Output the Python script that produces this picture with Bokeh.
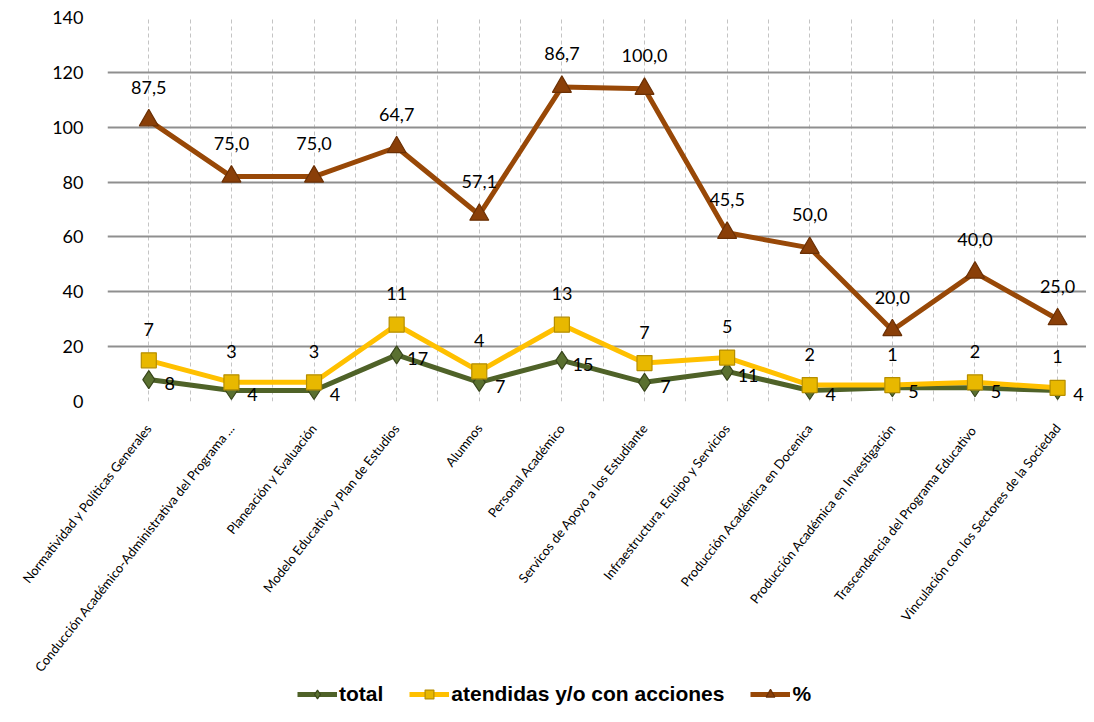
import numpy as np
from bokeh.plotting import figure
from bokeh.layouts import column
from bokeh.models import FixedTicker, Legend, LegendItem, ColumnDataSource, Range1d
from bokeh.core.properties import value
from bokeh.embed import file_html
from bokeh.resources import INLINE

categories = [
    "Normatividad y Políticas Generales",
    "Conducción Académico-Administrativa del Programa ...",
    "Planeación y Evaluación",
    "Modelo Educativo y Plan de Estudios",
    "Alumnos",
    "Personal Académico",
    "Servicos de Apoyo a los Estudiante",
    "Infraestructura, Equipo y Servicios",
    "Producción Académica en Docenica",
    "Producción Académica en Investigación",
    "Trascendencia del Programa  Educativo",
    "Vinculación con los Sectores de la Sociedad",
]
total = [8, 4, 4, 17, 7, 15, 7, 11, 4, 5, 5, 4]
atendidas = [7, 3, 3, 11, 4, 13, 7, 5, 2, 1, 2, 1]
pct = [87.5, 75.0, 75.0, 64.7, 57.1, 86.7, 100.0, 45.5, 50.0, 20.0, 40.0, 25.0]
y_ticks = [0, 20, 40, 60, 80, 100, 120, 140]
series_names = ["total", "atendidas y/o con acciones", "%"]

# stacked line chart (as in the original spreadsheet chart)
x = np.arange(len(categories))
s_total = np.array(total, dtype=float)
s_att = s_total + np.array(atendidas, dtype=float)
s_pct = s_att + np.array(pct, dtype=float)

FONT = "Lato"
C_GREEN = "#4F6228"
C_YELLOW = "#FFC000"
C_BROWN = "#984807"
styles = [
    dict(line=C_GREEN, marker="diamond", size=18, fill="#5a7030", edge="#39471c"),
    dict(line=C_YELLOW, marker="square", size=15, fill="#e8b800", edge="#b58e00"),
    dict(line=C_BROWN, marker="triangle", size=19, fill="#8a3f08", edge="#6b3005"),
]

p = figure(width=1086, height=682, output_backend="svg", toolbar_location=None,
           x_range=(-0.5, 11.35), y_range=(0, 140),
           min_border_left=107, min_border_right=0, min_border_top=17, min_border_bottom=278)
p.outline_line_color = None
p.background_fill_color = "white"

# grids
p.ygrid.ticker = FixedTicker(ticks=y_ticks)
p.ygrid.grid_line_color = "#8f8f8f"
p.ygrid.grid_line_width = 2
p.xgrid.ticker = FixedTicker(ticks=list(np.arange(-0.5, 11.6, 0.5)))
p.xgrid.grid_line_color = "#c4c4c4"
p.xgrid.grid_line_dash = "4 3"
p.xgrid.grid_line_width = 1

# axes
p.yaxis.ticker = FixedTicker(ticks=y_ticks)
p.yaxis.axis_line_color = None
p.yaxis.major_tick_line_color = None
p.yaxis.minor_tick_line_color = None
p.yaxis.major_label_text_font = FONT
p.yaxis.major_label_text_font_size = "18px"
p.yaxis.major_label_text_color = "#000000"
p.yaxis.major_label_standoff = 18

p.xaxis.ticker = FixedTicker(ticks=list(x))
p.xaxis.major_label_overrides = {int(i): c for i, c in zip(x, categories)}
p.xaxis.major_label_orientation = 0.9
p.xaxis.axis_line_color = None
p.xaxis.major_tick_line_color = None
p.xaxis.minor_tick_line_color = None
p.xaxis.major_label_text_font = FONT
p.xaxis.major_label_text_font_size = "13px"
p.xaxis.major_label_text_color = "#000000"
p.xaxis.major_label_standoff = 18

# series
for ys, st in zip([s_total, s_att, s_pct], styles):
    p.line(x, ys, line_color=st["line"], line_width=5)
    p.scatter(x, ys, marker=st["marker"], size=st["size"], fill_color=st["fill"],
              line_color=st["edge"], line_width=1.2)

# data labels
lab_src = ColumnDataSource(dict(
    x=x, yt=s_total, ya=s_att, yp=s_pct,
    tt=[str(v) for v in total],
    ta=[str(v) for v in atendidas],
    tp=[f"{v:.1f}".replace(".", ",") for v in pct],
))
common = dict(text_font=value(FONT), text_font_size="18px", text_color="#000000",
              text_baseline="middle")
p.text(x="x", y="yt", text="tt", source=lab_src, x_offset=21, y_offset=4, text_align="center", **common)
p.text(x="x", y="ya", text="ta", source=lab_src, x_offset=0, y_offset=-31, text_align="center", **common)
p.text(x="x", y="yp", text="tp", source=lab_src, x_offset=0, y_offset=-33, text_align="center", **common)

# legend strip below the chart (its renderers hold one point outside the view)
pl = figure(width=1086, height=24, output_backend="svg", toolbar_location=None,
            x_range=Range1d(0, 1), y_range=Range1d(0, 1),
            x_axis_location=None, y_axis_location=None,
            min_border_left=0, min_border_right=0, min_border_top=0, min_border_bottom=0)
pl.outline_line_color = None
pl.xgrid.visible = False
pl.ygrid.visible = False
items = []
for name, st in zip(series_names, styles):
    rl = pl.line(x=[-5, -4], y=[-5, -5], line_color=st["line"], line_width=5)
    rm = pl.scatter(x=[-5], y=[-5], marker=st["marker"], size=st["size"], fill_color=st["fill"],
                    line_color=st["edge"], line_width=1.2)
    items.append(LegendItem(label=name, renderers=[rl, rm]))
legend = Legend(items=items, orientation="horizontal", location=(190, 0))
legend.label_text_font = "Liberation Sans"
legend.label_text_font_style = "bold"
legend.label_text_font_size = "21px"
legend.label_text_color = "#000000"
legend.label_standoff = 2
legend.glyph_width = 40
legend.glyph_height = 22
legend.label_height = 22
legend.spacing = 26
legend.padding = 1
legend.margin = 0
legend.border_line_color = None
legend.background_fill_alpha = 0
pl.add_layout(legend)

layout = column(p, pl, spacing=0)
open("out.html", "w").write(file_html(layout, INLINE))
